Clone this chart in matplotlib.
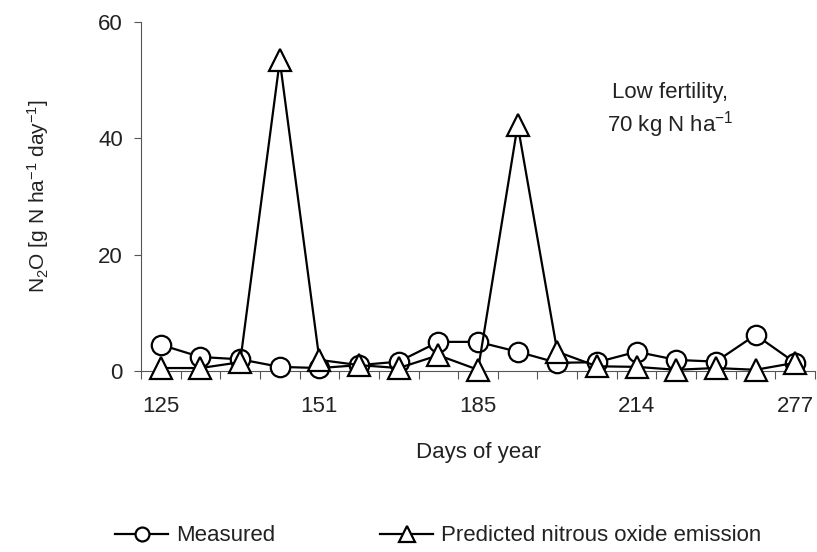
import matplotlib
matplotlib.use("Agg")
import matplotlib.pyplot as plt
from matplotlib.lines import Line2D
import numpy as np

plt.rcParams['font.family'] = ['Liberation Sans', 'DejaVu Sans']
plt.rcParams['mathtext.default'] = 'regular'

# sampling dates (only every 4th one is labelled on the axis)
day_labels = ["125", "", "", "", "151", "", "", "", "185", "", "", "", "214", "", "", "", "277"]

measured = [4.5, 2.4, 2.0, 0.7, 0.5, 1.0, 1.6, 5.0, 5.0, 3.3, 1.4, 1.5, 3.3, 1.9, 1.6, 6.2, 1.4]
predicted = [0.5, 0.5, 1.5, 53.4, 1.9, 1.0, 0.5, 2.7, 0.2, 42.3, 3.3, 0.8, 0.7, 0.2, 0.5, 0.2, 1.4]

x = np.arange(len(day_labels))
FS = 16

fig = plt.figure(figsize=(8.17, 5.52), dpi=100)
ax = fig.add_axes([0.1726, 0.328, 0.825, 0.632])

ax.plot(x, measured, color="black", lw=1.6, marker="o", ms=14, mfc="white",
        mec="black", mew=1.6, clip_on=False, zorder=3)
ax.plot(x, predicted, color="black", lw=1.6, marker="^", ms=16, mfc="white",
        mec="black", mew=1.6, clip_on=False, zorder=4)

ax.set_xlim(-0.5, len(x) - 0.5)
ax.set_ylim(0, 60)
ax.set_yticks([0, 20, 40, 60])
ax.set_xticks(x[::4])
ax.set_xticklabels([lab for lab in day_labels if lab])
ax.set_xticks(np.arange(-0.5, len(x), 1), minor=True)
ax.tick_params(axis="x", which="major", length=0, pad=18, labelsize=FS, labelcolor="#222222")
ax.tick_params(axis="x", which="minor", length=5.5, width=0.8, color="#555555")
ax.tick_params(axis="y", length=5, width=0.8, color="#555555", labelsize=FS, pad=8,
               labelcolor="#222222")

for s in ["top", "right"]:
    ax.spines[s].set_visible(False)
for s in ["left", "bottom"]:
    ax.spines[s].set_color("#555555")
    ax.spines[s].set_linewidth(0.8)

ax.set_xlabel("Days of year", fontsize=FS, labelpad=18, color="#222222")
ax.set_ylabel("N$_2$O [g N ha$^{-1}$ day$^{-1}$]", fontsize=15, labelpad=34, color="#222222")

ax.text(0.785, 0.797, "Low fertility,", transform=ax.transAxes, ha="center", va="center",
        fontsize=FS, color="#222222")
ax.text(0.785, 0.705, "70 kg N ha$^{-1}$", transform=ax.transAxes, ha="center", va="center",
        fontsize=FS, color="#222222")

handles = [
    Line2D([], [], color="black", lw=1.6, marker="o", ms=10, mfc="white", mec="black", mew=1.6),
    Line2D([], [], color="black", lw=1.6, marker="^", ms=11, mfc="white", mec="black", mew=1.6),
]
fig.legend(handles, ["Measured", "Predicted nitrous oxide emission"], loc="center left",
           bbox_to_anchor=(0.1408, 0.029), ncol=2, frameon=False, fontsize=FS,
           handlelength=2.4, handletextpad=0.36, columnspacing=4.7,
           borderpad=0, borderaxespad=0, labelcolor="#222222")

fig.savefig("out.png", dpi=100)
